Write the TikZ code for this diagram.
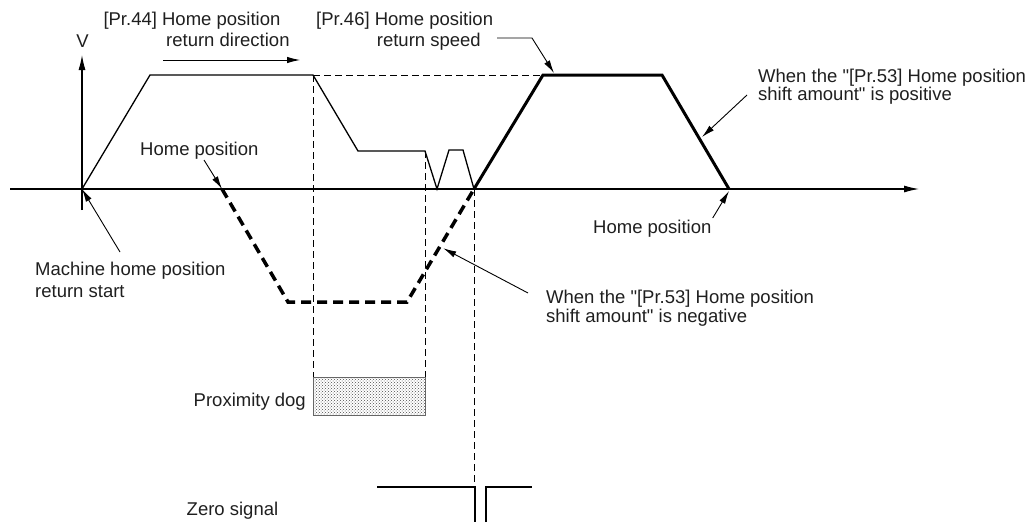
\documentclass[tikz,border=0pt]{standalone}
\usepackage{fontspec}
\setmainfont{Liberation Sans}[Ligatures=TeXOff]
\usetikzlibrary{arrows.meta,patterns}
\begin{document}
\begin{tikzpicture}[x=1pt,y=-1pt,
  lbl/.style={font=\fontsize{18.5}{22}\selectfont, inner sep=0pt, text=black!88},
  ln/.style={line width=1.1pt},
  prof/.style={line width=1.3pt, line join=miter},
  bold/.style={line width=3pt, line join=miter},
  dsh/.style={line width=1pt, dash pattern=on 7pt off 4pt},
  bdsh/.style={line width=3.5pt, dash pattern=on 10pt off 6pt},
  arr/.style={line width=0.9pt, -{Latex[length=13pt,width=6.5pt]}},
  axarr/.style={line width=1.1pt, -{Latex[length=15pt,width=7pt]}}]
\useasboundingbox (0,0) rectangle (1030,522);

% axes
\coordinate (xs) at (10,189);
\coordinate (xe) at (919,189);
\coordinate (ys) at (82,210);
\coordinate (ye) at (82,55);
\draw[axarr] (xs) -- (xe);
\draw[axarr] (ys) -- (ye);
\node[lbl, anchor=base] (V) at (82.5,47) {V};

% profile points
\coordinate (O) at (82,189);
\coordinate (A) at (150,75);
\coordinate (B) at (313,75);
\coordinate (C) at (358,151);
\coordinate (D) at (425,151);
\coordinate (E) at (437,189);
\coordinate (F) at (449,150);
\coordinate (G) at (463,150);
\coordinate (Z) at (474,189);
\coordinate (P) at (543,75);
\coordinate (Q) at (662,75);
\coordinate (R) at (729,189);
\coordinate (H1) at (222,189);
\coordinate (N1) at (288,302);
\coordinate (N2) at (407,302);

% dashed guides
\draw[dsh] (B) -- (P);
\coordinate (dogTL) at (313,377);
\coordinate (dogBR) at (425,415);
\coordinate (dogTR) at (425,377);
\coordinate (zsTop) at (474,487);
\draw[dsh] (B) -- (dogTL);
\draw[dsh] (D) -- (dogTR);
\draw[dsh] (Z) -- (zsTop);

% profiles
\draw[prof] (O) -- (A) -- (B) -- (C) -- (D) -- (E) -- (F) -- (G) -- (Z);
\draw[bold] (Z) -- (P) -- (Q) -- (R);
\draw[bdsh] (H1) -- (N1) -- (N2) -- (Z);

% proximity dog
\fill[white] (dogTL) rectangle (dogBR);
\draw[line width=0.8pt, draw=black!60, pattern=crosshatch dots, pattern color=black!70] (dogTL) rectangle (dogBR);
\node[lbl, anchor=base east] (dog) at (306,406.5) {Proximity dog};

% zero signal
\coordinate (zs1) at (377,487);
\coordinate (zs2) at (475,487);
\coordinate (zs3) at (475,522);
\coordinate (zs4) at (486,522);
\coordinate (zs5) at (486,487);
\coordinate (zs6) at (532,487);
\draw[ln] (zs1) -- (zs2) -- (zs3);
\draw[ln] (zs4) -- (zs5) -- (zs6);
\node[lbl, anchor=base west] (zero) at (186.5,515) {Zero signal};

% top labels
\node[lbl, anchor=base west] (pr44a) at (103.3,25) {[Pr.44] Home position};
\node[lbl, anchor=base west] (pr44b) at (166,46.7) {return direction};
\coordinate (dirS) at (163,60);
\coordinate (dirE) at (300,60);
\draw[arr] (dirS) -- (dirE);

\node[lbl, anchor=base west] (pr46a) at (316,25) {[Pr.46] Home position};
\node[lbl, anchor=base west] (pr46b) at (376.7,46.7) {return speed};
\coordinate (l46a) at (497,38);
\coordinate (l46b) at (532,38);
\coordinate (l46c) at (554,73);
\draw[arr] (l46a) -- (l46b) -- (l46c);

% positive shift
\node[lbl, anchor=base west] (posa) at (758,82) {When the "[Pr.53] Home position};
\node[lbl, anchor=base west] (posb) at (758,100.5) {shift amount" is positive};
\coordinate (posS) at (747,95);
\coordinate (posT) at (702,137);
\draw[arr] (posS) -- (posT);

% home position (right)
\node[lbl, anchor=base west] (hpR) at (593,233.5) {Home position};
\coordinate (hpRs) at (712.7,218);
\coordinate (hpRt) at (729,191);
\draw[arr] (hpRs) -- (hpRt);

% home position (left)
\node[lbl, anchor=base west] (hpL) at (140,155) {Home position};
\coordinate (hpLs) at (204,160);
\draw[arr] (hpLs) -- (H1);

% machine home position return start
\node[lbl, anchor=base west] (mha) at (35,275) {Machine home position};
\node[lbl, anchor=base west] (mhb) at (35,297) {return start};
\coordinate (mhS) at (120,252);
\draw[arr] (mhS) -- (O);

% negative shift
\node[lbl, anchor=base west] (nega) at (546,303.3) {When the "[Pr.53] Home position};
\node[lbl, anchor=base west] (negb) at (546,322.7) {shift amount" is negative};
\coordinate (negS) at (528,293);
\coordinate (negT) at (443.3,248.3);
\draw[arr] (negS) -- (negT);
\end{tikzpicture}
\end{document}
